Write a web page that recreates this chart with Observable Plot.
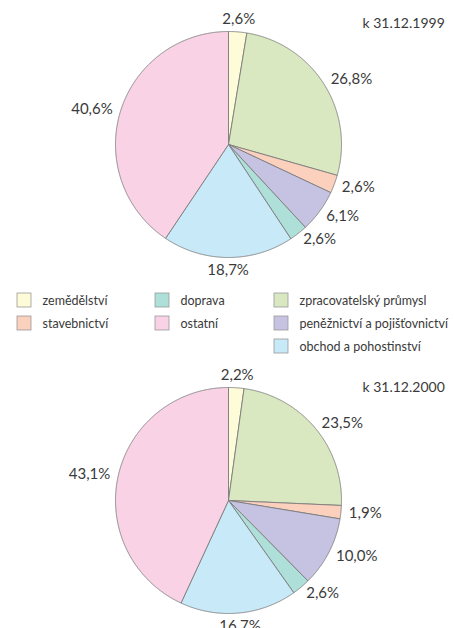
<!DOCTYPE html>
<html>
<head>
<meta charset="utf-8">
<script src="https://cdn.jsdelivr.net/npm/d3@7"></script>
<script src="https://cdn.jsdelivr.net/npm/@observablehq/plot@0.6"></script>
<style>
  html, body { margin: 0; padding: 0; background: #fff; }
  svg { display: block; }
</style>
</head>
<body>
<div id="chart"></div>
<script>
// ---- data ----
const categories = ["zemědělství", "zpracovatelský průmysl", "stavebnictví", "peněžnictví a pojišťovnictví", "doprava", "obchod a pohostinství", "ostatní"];
const colors = ["#fefbd8", "#d9e8c1", "#fbd0bc", "#c6c3e2", "#aedfd9", "#c7e9f8", "#f9d3e5"];
const values1999 = [2.6, 26.8, 2.6, 6.1, 2.6, 18.7, 40.6];
const values2000 = [2.2, 23.5, 1.9, 10.0, 2.6, 16.7, 43.1];
const titles = ["k 31.12.1999", "k 31.12.2000"];
const legendColumns = [
  ["zemědělství", "stavebnictví"],
  ["doprava", "ostatní"],
  ["zpracovatelský průmysl", "peněžnictví a pojišťovnictví", "obchod a pohostinství"]
];

// ---- layout ----
const W = 454, H = 628;
const FONT = "Lato, 'Open Sans', sans-serif";
const pies = [
  {cx: 228, cy: 144, r: 113, values: values1999, title: titles[0], ty: 23},
  {cx: 228, cy: 500, r: 113, values: values2000, title: titles[1], ty: 387}
];
const colorOf = Object.fromEntries(categories.map((c, i) => [c, colors[i]]));
const fmt = v => v.toFixed(1).replace(".", ",") + "%";

const slicePts = [];
const labels = [];
pies.forEach((p, pi) => {
  const arcs = d3.pie().sort(null).value(d => d.value)(categories.map((c, i) => ({cat: c, value: p.values[i]})));
  arcs.forEach((a, si) => {
    const id = pi + "-" + si;
    const fill = colorOf[a.data.cat];
    slicePts.push({id, fill, x: p.cx, y: p.cy});
    const n = Math.max(2, Math.ceil((a.endAngle - a.startAngle) / 0.005));
    for (let k = 0; k <= n; k++) {
      const t = a.startAngle + (a.endAngle - a.startAngle) * k / n;
      slicePts.push({id, fill, x: p.cx + p.r * Math.sin(t), y: p.cy - p.r * Math.cos(t)});
    }
    slicePts.push({id, fill, x: p.cx, y: p.cy});
    const m = (a.startAngle + a.endAngle) / 2;
    const s = Math.sin(m), c = Math.cos(m);
    let anchor = Math.abs(s) < 0.35 ? "middle" : (s > 0 ? "start" : "end");
    const rr = p.r + (anchor === "middle" ? 13 : 8);
    labels.push({x: p.cx + rr * s, y: p.cy - rr * c, text: fmt(a.data.value), anchor});
  });
});

const legendX = [17, 155, 274];
const legendY = [300, 323, 346];
const legendItems = [];
legendColumns.forEach((col, ci) => col.forEach((cat, ri) => {
  legendItems.push({cat, fill: colorOf[cat], x: legendX[ci], y: legendY[ri]});
}));
const SQ = 14;

const chart = Plot.plot({
  width: W,
  height: H,
  margin: 0,
  style: {fontFamily: FONT, background: "#fff", color: "#333"},
  x: {domain: [0, W], range: [0, W], axis: null},
  y: {domain: [0, H], range: [0, H], axis: null},
  color: {type: "identity"},
  marks: [
    Plot.line(slicePts, {x: "x", y: "y", z: "id", fill: "fill", stroke: "#7d7d7d", strokeWidth: 0.9, strokeLinejoin: "round", curve: "linear"}),
    ...["start", "end", "middle"].map(anchor =>
      Plot.text(labels.filter(d => d.anchor === anchor), {x: "x", y: "y", text: "text", textAnchor: anchor, lineAnchor: "middle", fontSize: 15, fill: "#3a3a3a"})
    ),
    Plot.text(pies, {x: () => 362, y: "ty", text: "title", textAnchor: "start", lineAnchor: "middle", fontSize: 14, fill: "#3a3a3a"}),
    Plot.rect(legendItems, {x1: d => d.x, x2: d => d.x + SQ, y1: d => d.y - SQ / 2, y2: d => d.y + SQ / 2, fill: "fill", stroke: "#999", strokeWidth: 0.8}),
    Plot.text(legendItems, {x: d => d.x + 25, y: "y", text: "cat", textAnchor: "start", lineAnchor: "middle", fontSize: 12.5, fill: "#3a3a3a"})
  ]
});
document.getElementById("chart").appendChild(chart);
</script>
</body>
</html>
